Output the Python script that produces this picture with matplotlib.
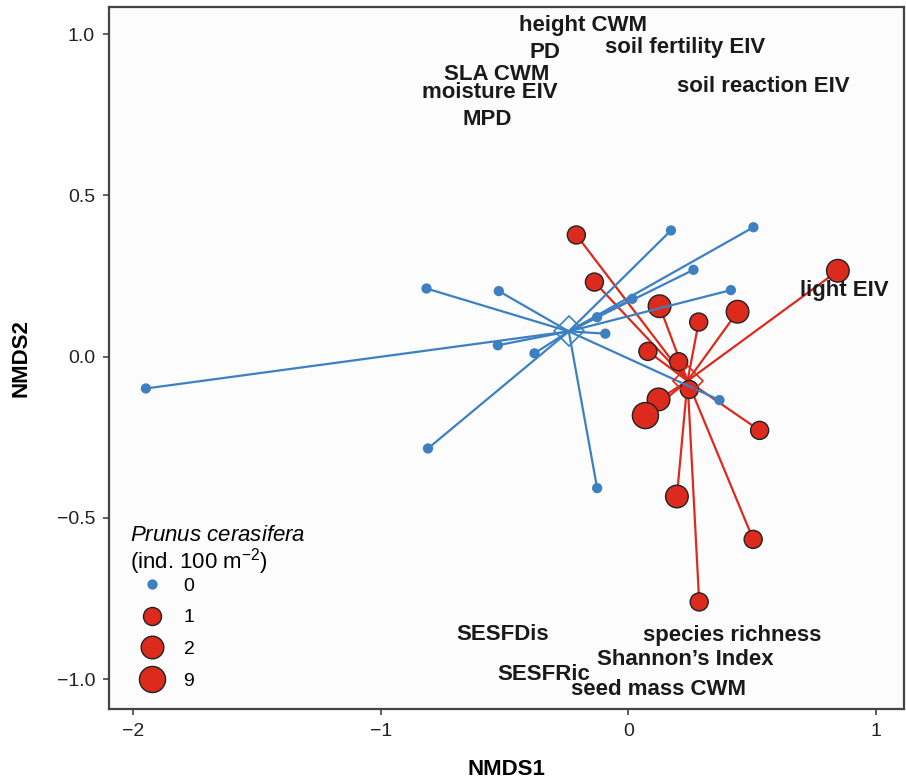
import numpy as np
import matplotlib.pyplot as plt
from matplotlib.lines import Line2D

plt.rcParams['font.family'] = ['Liberation Sans', 'DejaVu Sans']
plt.rcParams['mathtext.fontset'] = 'custom'
plt.rcParams['mathtext.rm'] = 'Liberation Sans'
plt.rcParams['mathtext.it'] = 'Liberation Sans:italic'

# plots without Prunus cerasifera (0 ind.)
absent_x = [-1.948, -0.815, -0.523, -0.527, -0.379, -0.809, -0.126, -0.093,
            -0.126, 0.016, 0.172, 0.505, 0.263, 0.414, 0.368]
absent_y = [-0.099, 0.211, 0.203, 0.035, 0.010, -0.285, -0.408, 0.071,
            0.122, 0.179, 0.391, 0.401, 0.269, 0.206, -0.135]

# plots with Prunus cerasifera, abundance in ind. 100 m-2
present_x = [-0.210, -0.137, 0.126, 0.441, 0.284, 0.079, 0.203, 0.246,
             0.122, 0.069, 0.530, 0.196, 0.504, 0.286, 0.846]
present_y = [0.377, 0.231, 0.156, 0.139, 0.107, 0.016, -0.016, -0.102,
             -0.133, -0.183, -0.229, -0.434, -0.567, -0.761, 0.266]
present_n = [1, 1, 2, 2, 1, 1, 1, 1, 2, 9, 1, 2, 1, 1, 2]

# fitted variable labels
var_labels = ["height CWM", "PD", "soil fertility EIV", "SLA CWM", "moisture EIV",
              "MPD", "soil reaction EIV", "light EIV", "SESFDis", "species richness",
              "Shannon\u2019s Index", "SESFRic", "seed mass CWM"]
var_x = [-0.185, -0.336, 0.230, -0.532, -0.560, -0.570, 0.544, 0.871,
         -0.509, 0.419, 0.230, -0.343, 0.120]
var_y = [1.028, 0.944, 0.957, 0.876, 0.820, 0.734, 0.839, 0.204,
         -0.861, -0.866, -0.938, -0.985, -1.031]

BLUE = "#3d80c2"
RED = "#dc2a1d"
msize = {0: 7.4, 1: 13.0, 2: 16.3, 9: 18.8}

fig = plt.figure(figsize=(9.06, 7.83), dpi=100)
ax = fig.add_axes([109 / 906, 1 - 709 / 783, (904 - 109) / 906, (709 - 7) / 783])
ax.set_facecolor("#fcfcfc")

ax_, ay_ = np.array(absent_x), np.array(absent_y)
px_, py_ = np.array(present_x), np.array(present_y)
cb = (ax_.mean(), ay_.mean())
cr = (px_.mean(), py_.mean())

# spiders
for x, y in zip(px_, py_):
    ax.plot([cr[0], x], [cr[1], y], color=RED, lw=1.6, zorder=2)
ax.scatter(px_, py_, s=[msize[n] ** 2 for n in present_n], c=RED,
           edgecolors="#222222", linewidths=1.0, zorder=3)
for x, y in zip(ax_, ay_):
    ax.plot([cb[0], x], [cb[1], y], color=BLUE, lw=1.6, zorder=4)
ax.scatter(ax_, ay_, s=msize[0] ** 2, c=BLUE, edgecolors="none", zorder=5)

ax.plot(*cb, marker="D", ms=15, mfc="none", mec=BLUE, mew=1.2, zorder=6)
ax.plot(*cr, marker="D", ms=15, mfc="none", mec=RED, mew=1.2, zorder=6)

for lab, x, y in zip(var_labels, var_x, var_y):
    ax.text(x, y, lab, ha="center", va="center", fontsize=16,
            fontweight="bold", color="#1a1a1a", zorder=7)

ax.set_xlim(-2.097, 1.113)
ax.set_ylim(-1.093, 1.084)
ax.set_xticks([-2, -1, 0, 1])
ax.set_yticks([-1.0, -0.5, 0.0, 0.5, 1.0])
ax.set_yticklabels(["\u22121.0", "\u22120.5", "0.0", "0.5", "1.0"])
ax.set_xticklabels(["\u22122", "\u22121", "0", "1"])
ax.tick_params(labelsize=14, colors="#444444", labelcolor="#222222",
               length=4, width=1.2, pad=6)
for sp in ax.spines.values():
    sp.set_color("#444444")
    sp.set_linewidth(1.6)

ax.set_xlabel("NMDS1", fontsize=16, fontweight="bold", labelpad=14)
ax.set_ylabel("NMDS2", fontsize=16, fontweight="bold", labelpad=18)

handles = [Line2D([], [], ls="none", marker="o", ms=msize[0], mfc=BLUE, mec="none")]
for n in [1, 2, 9]:
    handles.append(Line2D([], [], ls="none", marker="o", ms=msize[n],
                          mfc=RED, mec="#222222", mew=1.0))
leg = ax.legend(handles, ["0", "1", "2", "9"],
                title="$\\it{Prunus\\ cerasifera}$\n(ind. 100 m$^{-2}$)",
                loc="lower left", bbox_to_anchor=(0.018, 0.018), frameon=False,
                fontsize=14, title_fontsize=16, labelspacing=0.72,
                handletextpad=0.45, handlelength=2.3, alignment="left",
                borderaxespad=0.2, borderpad=0.15)
leg.get_title().set_linespacing(1.0)
leg._legend_box.sep = 0

fig.savefig("out.png", dpi=100)
